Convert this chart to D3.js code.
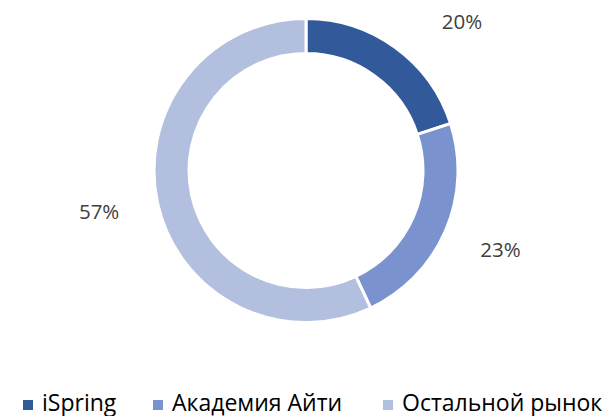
<!DOCTYPE html>
<html>
<head>
<meta charset="utf-8">
<script src="https://cdn.jsdelivr.net/npm/d3@7"></script>
<style>
  body { margin: 0; background: #fff; }
  #canvas { width: 605px; height: 416px; }
  text { font-family: "Open Sans", "Noto Sans", sans-serif; }
</style>
</head>
<body>
<div id="canvas"></div>
<script>
const w = 605, h = 416;

const categories = ["iSpring", "Академия Айти", "Остальной рынок"];
const values = [20, 23, 57];
const colors = ["#325a9b", "#7a93cf", "#b3bfdf"];

let svg = d3.select("#canvas")
            .append("svg")
                .attr("width", w)
                .attr("height", h)
                .attr("viewBox", [0, 0, w, h]);

const cx = 306, cy = 170.5;
const outerR = 152, innerR = 117, labelR = 212;

const pie = d3.pie().sort(null).value(d => d)(values);
const arc = d3.arc().innerRadius(innerR).outerRadius(outerR);

let g = svg.append("g").attr("transform", "translate(" + cx + "," + cy + ")");

g.selectAll("path")
    .data(pie)
  .enter().append("path")
    .attr("d", arc)
    .attr("fill", (d, i) => colors[i])
    .attr("stroke", "#fff")
    .attr("stroke-width", 3);

// labels sit on a circle round the ring (a bit above centre), kept inside the top edge
const total = d3.sum(values);
const lblShift = -6;
g.selectAll("text.lbl")
    .data(pie)
  .enter().append("text")
    .attr("class", "lbl")
    .each(function(d) {
        let a = (d.startAngle + d.endAngle) / 2;
        let x = labelR * Math.sin(a), y = -labelR * Math.cos(a);
        const minY = 21 - cy - lblShift;
        if (y < minY) {
            y = minY;
            x = Math.sign(x) * Math.sqrt(labelR * labelR - y * y);
        }
        d3.select(this).attr("x", x).attr("y", y + lblShift);
    })
    .attr("text-anchor", "middle")
    .attr("dominant-baseline", "central")
    .attr("font-size", 20.5)
    .attr("fill", "#404040")
    .text(d => Math.round(d.value / total * 100) + "%");

// legend
const legendX = [23, 153, 383];
let lg = svg.append("g").attr("class", "legend");
let items = lg.selectAll("g")
    .data(categories)
  .enter().append("g")
    .attr("transform", (d, i) => "translate(" + legendX[i] + ",400)");
items.append("rect")
    .attr("width", 10).attr("height", 10)
    .attr("fill", (d, i) => colors[i]);
items.append("text")
    .attr("x", 19).attr("y", 10.5)
    .attr("font-size", 23)
    .attr("fill", "#000")
    .text(d => d);
</script>
</body>
</html>
